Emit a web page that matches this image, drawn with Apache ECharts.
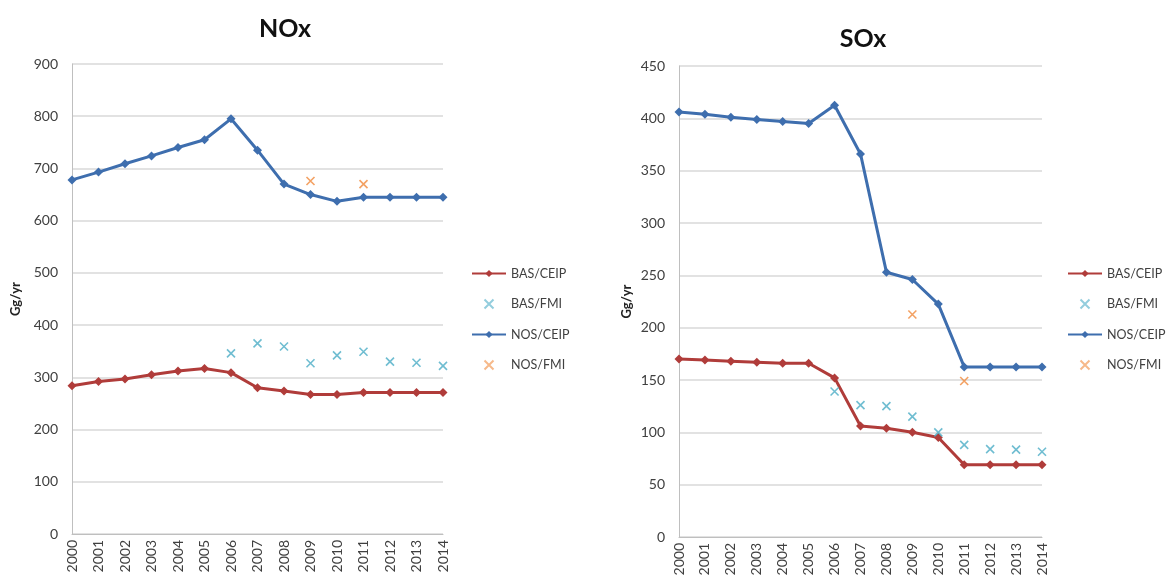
<!DOCTYPE html>
<html><head><meta charset="utf-8">
<script src="https://cdn.jsdelivr.net/npm/echarts@6/dist/echarts.min.js"></script>
<style>html,body{margin:0;padding:0;background:#fff}#c{width:1168px;height:581px}</style>
</head><body><div id="c"></div>
<script>
const years = ['2000','2001','2002','2003','2004','2005','2006','2007','2008','2009','2010','2011','2012','2013','2014'];
// NOx (Gg/yr)
const noxBasCeip = [284,292,297,305,312,317,309,280,274,267,267,271,271,271,271];
const noxBasFmi  = [null,null,null,null,null,null,346,365,359,327,342,349,330,328,322];
const noxNosCeip = [678,693,709,724,740,755,795,735,670,650,637,645,645,645,645];
const noxNosFmi  = [null,null,null,null,null,null,null,null,null,676,null,670,null,null,null];
// SOx (Gg/yr)
const soxBasCeip = [170,169,168,167,166,166,152,106,104,100,95,69,69,69,69];
const soxBasFmi  = [null,null,null,null,null,null,139,126,125,115,100,88,84,83.5,81.5];
const soxNosCeip = [406,404,401,399,397,395,412.5,366,253,246,222.5,162.5,162.5,162.5,162.5];
const soxNosFmi  = [null,null,null,null,null,null,null,null,null,212.6,null,149,null,null,null];
const noxTicks = {min:0,max:900,interval:100};
const soxTicks = {min:0,max:450,interval:50};
const legendNames = ['BAS/CEIP','BAS/FMI','NOS/CEIP','NOS/FMI'];

const RED='#B03C3A', BLUE='#3E6EAE', CYAN='#4BACC6', ORANGE='#F08A3C';
const FONT='Lato';
const X_PATH='path://M0,0 L10,10 M10,0 L0,10';

function xAxis(i){return {type:'category',gridIndex:i,data:years,boundaryGap:false,
  axisLine:{lineStyle:{color:'#BFBFBF',width:1}},axisTick:{show:false},
  axisLabel:{rotate:90,color:'#404040',fontSize:14,fontFamily:FONT,margin:6}};}
function yAxis(i,t){return {type:'value',gridIndex:i,min:t.min,max:t.max,interval:t.interval,
  name:'Gg/yr',nameLocation:'middle',nameGap:i===0?50:46,
  nameTextStyle:{fontWeight:'bold',fontSize:13,color:'#222',fontFamily:FONT},
  axisLine:{show:true,lineStyle:{color:'#BFBFBF',width:1}},axisTick:{show:false},
  splitLine:{lineStyle:{color:'#D9D9D9',width:1.5}},
  axisLabel:{color:'#404040',fontSize:14,fontFamily:FONT,margin:14}};}
function lineS(name,data,color,i){return {name,type:'line',xAxisIndex:i,yAxisIndex:i,data,
  symbol:'diamond',symbolSize:9,showSymbol:true,lineStyle:{color,width:3},itemStyle:{color},z:3,animation:false};}
function xS(name,data,color,i){return {name,type:'scatter',xAxisIndex:i,yAxisIndex:i,data,
  symbol:X_PATH,symbolSize:8,itemStyle:{color:'none',borderColor:color,borderWidth:1.6},z:4,animation:false};}
function legend(left){return {orient:'vertical',left,top:262,itemWidth:34,itemHeight:9,itemGap:17,
  data:[
    {name:'BAS/CEIP'},
    {name:'BAS/FMI',itemStyle:{opacity:0.6}},
    {name:'NOS/CEIP'},
    {name:'NOS/FMI',itemStyle:{opacity:0.6}}
  ],
  textStyle:{color:'#404040',fontSize:12.5,fontFamily:FONT}};}

const chart=echarts.init(document.getElementById('c'));
chart.setOption({
  backgroundColor:'#fff',
  animation:false,
  title:[
    {text:'NOx',left:280,top:11,textAlign:'center',textStyle:{fontSize:25,fontWeight:'bold',color:'#111',fontFamily:FONT}},
    {text:'SOx',left:858,top:21,textAlign:'center',textStyle:{fontSize:25,fontWeight:'bold',color:'#111',fontFamily:FONT}}
  ],
  legend:[legend(466),legend(1062)],
  grid:[
    {left:72,top:64,width:371,height:470},
    {left:679,top:66,width:363,height:471}
  ],
  xAxis:[xAxis(0),xAxis(1)],
  yAxis:[yAxis(0,noxTicks),yAxis(1,soxTicks)],
  series:[
    lineS('BAS/CEIP',noxBasCeip,RED,0),
    xS('BAS/FMI',noxBasFmi,CYAN,0),
    lineS('NOS/CEIP',noxNosCeip,BLUE,0),
    xS('NOS/FMI',noxNosFmi,ORANGE,0),
    lineS('BAS/CEIP',soxBasCeip,RED,1),
    xS('BAS/FMI',soxBasFmi,CYAN,1),
    lineS('NOS/CEIP',soxNosCeip,BLUE,1),
    xS('NOS/FMI',soxNosFmi,ORANGE,1)
  ]
});
</script></body></html>
